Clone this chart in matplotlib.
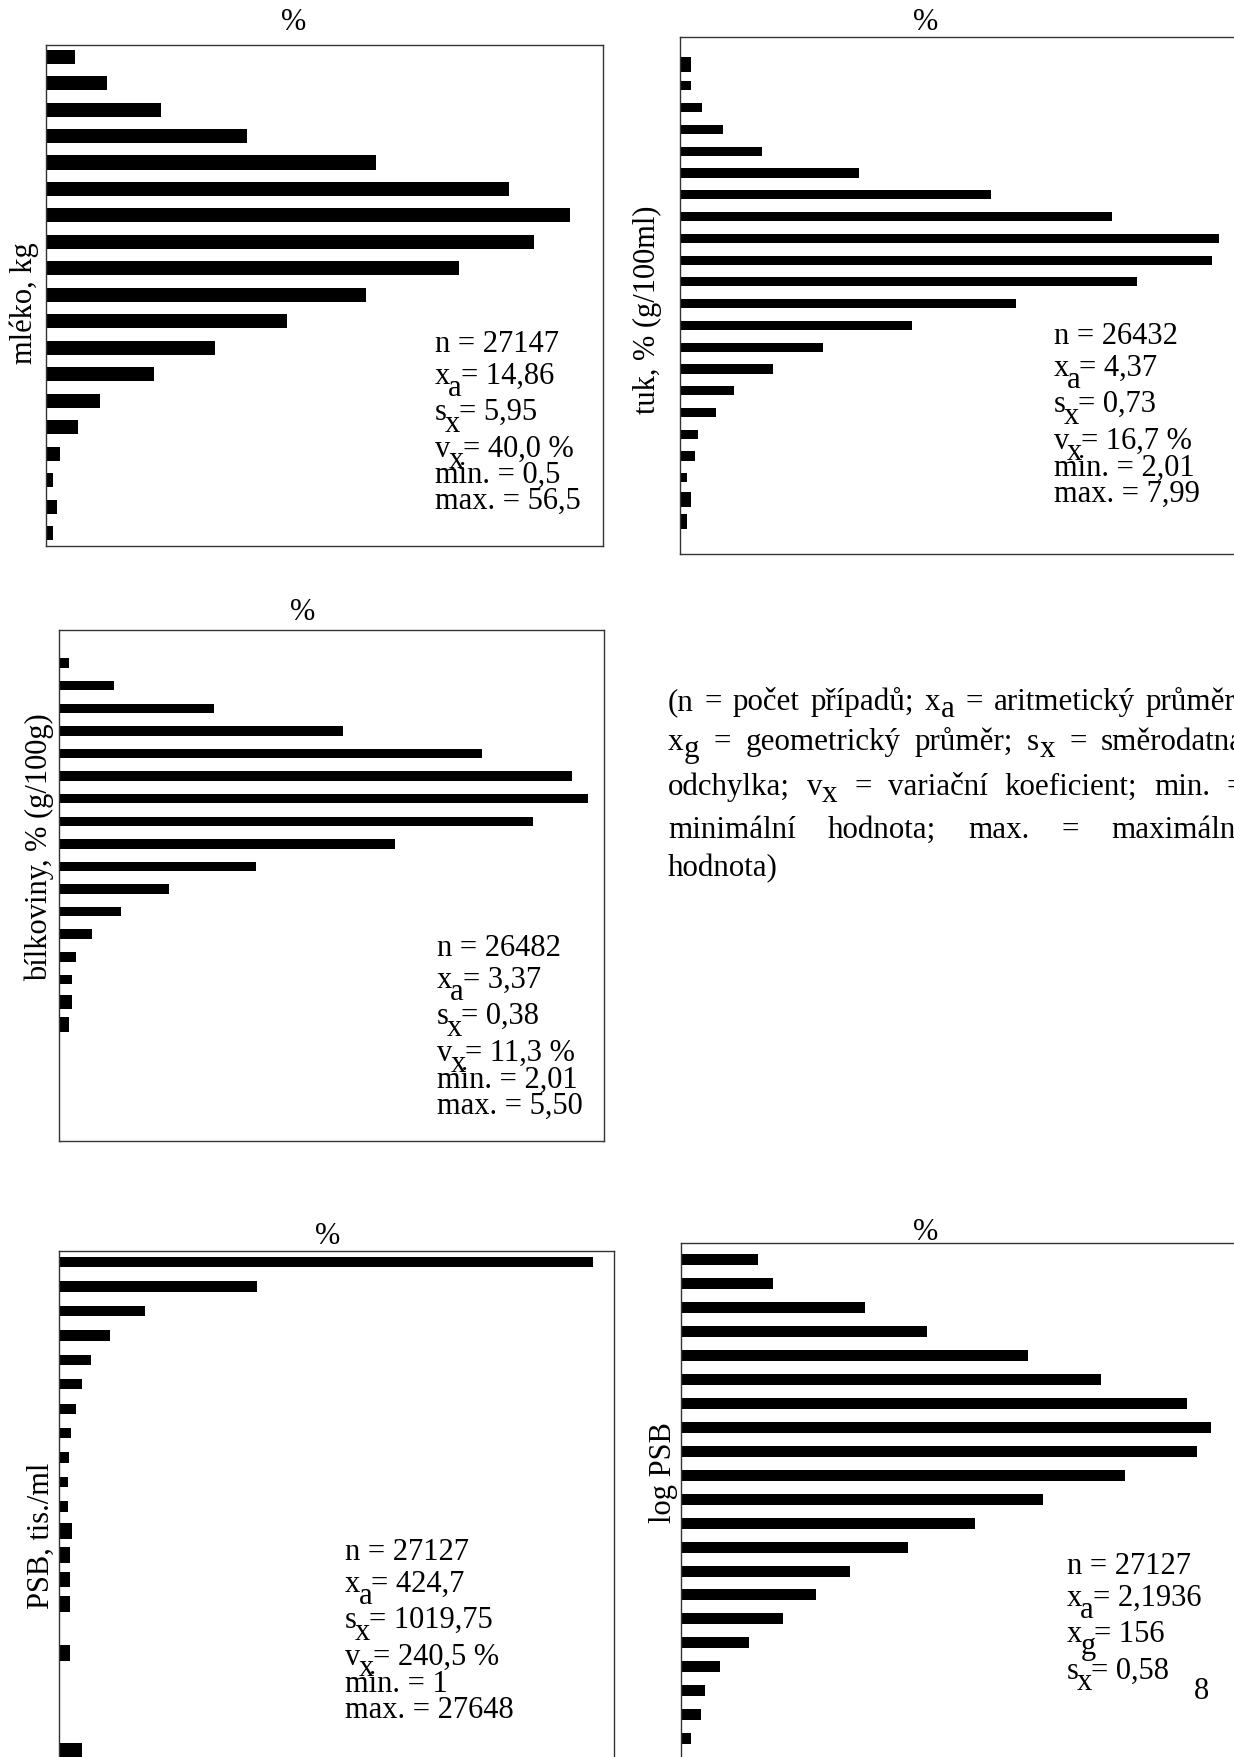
import matplotlib
matplotlib.use("Agg")
import matplotlib.pyplot as plt

W, H, DPI = 1234, 1758, 100
plt.rcParams['font.family'] = ['Liberation Serif', 'DejaVu Serif']
FS = 22
LFS = 22.3

# ---------------- data (% of cases per class, top class first) ----------------
milk_pct = [0.8, 1.7, 3.2, 5.6, 9.2, 12.9, 14.6, 13.6, 11.5, 8.9, 6.7, 4.7, 3.0,
            1.5, 0.9, 0.4, 0.2, 0.3, 0.2]
fat_pct = [0.3, 0.3, 0.6, 1.2, 2.3, 5.0, 8.7, 12.1, 15.1, 14.9, 12.8, 9.4, 6.5,
           4.0, 2.6, 1.5, 1.0, 0.5, 0.4, 0.2, 0.3, 0.2]
protein_pct = [0.3, 1.7, 4.8, 8.8, 13.1, 15.9, 16.4, 14.7, 10.4, 6.1, 3.4, 1.9,
               1.0, 0.5, 0.4, 0.4, 0.3]
psb_pct = [50.7, 18.8, 8.1, 4.8, 3.0, 2.1, 1.6, 1.1, 0.9, 0.8, 0.8, 1.2, 1.0,
           1.0, 1.0, 0.0, 1.0, 0.0, 0.0, 0.0, 2.1]
logpsb_pct = [1.6, 1.9, 3.8, 5.1, 7.2, 8.7, 10.5, 11.0, 10.7, 9.2, 7.5, 6.1, 4.7,
              3.5, 2.8, 2.1, 1.4, 0.8, 0.5, 0.4, 0.2]

ylabels = ["mléko, kg", "tuk, % (g/100ml)", "bílkoviny, % (g/100g)",
           "PSB, tis./ml", "log PSB"]
x_title = "%"

# statistics: (symbol, subscript, rest)
milk_stats = [("n = 27147", "", ""), ("x", "a", "= 14,86"), ("s", "x", "= 5,95"),
              ("v", "x", "= 40,0 %"), ("min. = 0,5", "", ""), ("max. = 56,5", "", "")]
fat_stats = [("n = 26432", "", ""), ("x", "a", "= 4,37"), ("s", "x", "= 0,73"),
             ("v", "x", "= 16,7 %"), ("min. = 2,01", "", ""), ("max. = 7,99", "", "")]
protein_stats = [("n = 26482", "", ""), ("x", "a", "= 3,37"), ("s", "x", "= 0,38"),
                 ("v", "x", "= 11,3 %"), ("min. = 2,01", "", ""), ("max. = 5,50", "", "")]
psb_stats = [("n = 27127", "", ""), ("x", "a", "= 424,7"), ("s", "x", "= 1019,75"),
             ("v", "x", "= 240,5 %"), ("min. = 1", "", ""), ("max. = 27648", "", "")]
logpsb_stats = [("n = 27127", "", ""), ("x", "a", "= 2,1936"), ("x", "g", "= 156"),
                ("s", "x", "= 0,58")]

# legend paragraph: words, subscripts as (word, sub)
legend_lines = [
    [("(n", ""), ("=", ""), ("počet", ""), ("případů;", ""), ("x", "a"), ("=", ""),
     ("aritmetický", ""), ("průměr;", "")],
    [("x", "g"), ("=", ""), ("geometrický", ""), ("průměr;", ""), ("s", "x"), ("=", ""),
     ("směrodatná", "")],
    [("odchylka;", ""), ("v", "x"), ("=", ""), ("variační", ""), ("koeficient;", ""),
     ("min.", ""), ("=", "")],
    [("minimální", ""), ("hodnota;", ""), ("max.", ""), ("=", ""), ("maximální", "")],
    [("hodnota)", "")],
]
page_number = "8"

# ---------------- styling / layout ----------------
milk_h = [0.53] * len(milk_pct)
fat_h = [0.68] + [0.42] * 19 + [0.68, 0.7]
protein_h = [0.44] + [0.42] * 14 + [0.62, 0.66]
psb_h = [0.42] * 11 + [0.64] * 4 + [0.42, 0.64, 0.42, 0.42, 0.42, 0.64]
logpsb_h = [0.46] * len(logpsb_pct)
STAT_DY = [0, 32.3, 68.3, 105, 131.6, 157.6]

fig = plt.figure(figsize=(W / DPI, H / DPI), dpi=DPI)
renderer = fig.canvas.get_renderer()


def ftext(x, y, s, **kw):
    kw.setdefault("fontsize", FS)
    return fig.text(x / W, 1 - y / H, s, **kw)


def width(t):
    return t.get_window_extent(renderer).width


def panel(box, values, heights, yl, xmax, ylim_top, ylim_bot, title_xy, ylab_xy,
          stats, stats_x, stats_y0, drop=11.5):
    l, t, r, b = box
    ax = fig.add_axes([l / W, 1 - b / H, (r - l) / W, (b - t) / H])
    ax.barh(range(len(values)), values, height=heights, color="black", linewidth=0)
    ax.set_xlim(0, xmax)
    ax.set_ylim(ylim_bot, ylim_top)
    ax.set_xticks([])
    ax.set_yticks([])
    for sp in ax.spines.values():
        sp.set_linewidth(1.0)
        sp.set_color("#333333")
    ftext(title_xy[0], title_xy[1], x_title, ha="center", va="center")
    ftext(ylab_xy[0], ylab_xy[1], yl, ha="center", va="center", rotation=90)
    for (base, sub, rest), dy in zip(stats, STAT_DY):
        yy = stats_y0 + dy
        tb = ftext(stats_x, yy, base, va="baseline")
        if sub:
            xs = stats_x + width(tb) - 2
            ts = ftext(xs, yy + drop, sub, va="baseline")
            ftext(xs + width(ts) - 1, yy, rest, va="baseline")
    return ax


panel((46, 45.7, 602.7, 547.3), milk_pct, milk_h, ylabels[0], 15.5, -0.45, 18.5,
      (293.6, 22.4), (24.7, 303),
      milk_stats, 435, 351.7)

panel((680.3, 37.7, 1250, 555), fat_pct, fat_h, ylabels[1], 15.96, -1.26, 22.5,
      (925.8, 22.4), (647.8, 310),
      fat_stats, 1053.6, 344)

panel((59.4, 630.7, 604.1, 1142.1), protein_pct, protein_h, ylabels[2], 16.9, -1.48, 21.16,
      (302.6, 612), (39.2, 847),
      protein_stats, 437.1, 956)

panel((59.4, 1251.9, 614.2, 1780), psb_pct, psb_h, ylabels[3], 52.7, -0.46, 21.16,
      (327.3, 1236.2), (41.5, 1536),
      psb_stats, 345.2, 1560)

panel((681.4, 1244.1, 1250, 1780), logpsb_pct, logpsb_h, ylabels[4], 11.8, -0.70, 21.69,
      (925.8, 1232.9), (663.5, 1473),
      logpsb_stats, 1067, 1574)

ftext(1201.5, 1699, page_number, ha="center", va="baseline")

# ---------------- legend paragraph (justified) ----------------
LX, RX = 668, 1244
leg_y = [710, 750, 795, 838, 876]
SUB_DROP = 7
for li, (words, yy) in enumerate(zip(legend_lines, leg_y)):
    ws = []
    for w, s in words:
        t = ftext(0, -100, w, fontsize=LFS)
        wd = width(t)
        t.remove()
        if s:
            t2 = ftext(0, -100, s, fontsize=LFS)
            wd += width(t2)
            t2.remove()
        ws.append(wd)
    space = 7.5
    if li < len(legend_lines) - 1 and len(words) > 1:
        gap = max((RX - LX - sum(ws)) / (len(words) - 1), space)
    else:
        gap = space
    x = LX
    for (w, s), wd in zip(words, ws):
        t = ftext(x, yy, w, va="baseline", fontsize=LFS)
        if s:
            ftext(x + width(t), yy + SUB_DROP, s, va="baseline", fontsize=LFS)
        x += wd + gap

fig.savefig("out.png", dpi=DPI)
